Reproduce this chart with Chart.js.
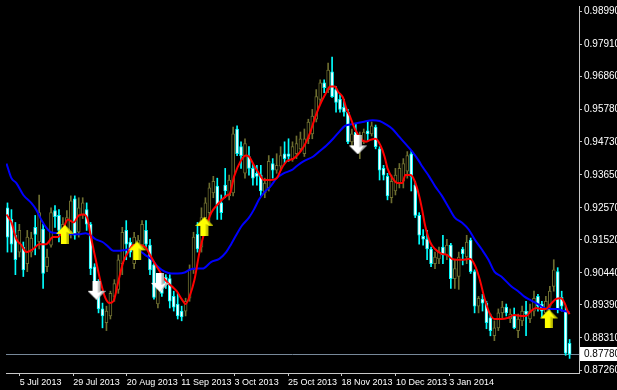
<!DOCTYPE html>
<html>
<head>
<meta charset="utf-8">
<script src="https://cdn.jsdelivr.net/npm/chart.js@4"></script>
<style>
  html, body { margin: 0; padding: 0; background: #000; }
  canvas { display: block; }
</style>
</head>
<body>
<canvas id="grafico" width="617" height="390"></canvas>
<script>
// daily candles, index 0 = first bar on the left
const opens = [
  0.9257, 0.9219, 0.9167, 0.9112, 0.9128, 0.9074, 0.9112, 0.9193, 0.9145, 0.9187,
  0.9064, 0.9135, 0.9248, 0.9232, 0.9161, 0.9177, 0.9177, 0.9286, 0.9177, 0.9235,
  0.9251, 0.9203, 0.9064, 0.9016, 0.8926, 0.8881, 0.8903, 0.8967, 0.8990, 0.9074,
  0.9183, 0.9145, 0.9074, 0.9112, 0.9135, 0.9183, 0.9135, 0.9070, 0.8942, 0.9006,
  0.9029, 0.9025, 0.8967, 0.8942, 0.8919, 0.8919, 0.8961, 0.9054, 0.9170, 0.9128,
  0.9225, 0.9241, 0.9306, 0.9328, 0.9273, 0.9331, 0.9296, 0.9306, 0.9515, 0.9457,
  0.9370, 0.9425, 0.9386, 0.9370, 0.9364, 0.9306, 0.9322, 0.9402, 0.9380, 0.9393,
  0.9434, 0.9434, 0.9418, 0.9434, 0.9450, 0.9434, 0.9483, 0.9499, 0.9547, 0.9612,
  0.9666, 0.9644, 0.9702, 0.9644, 0.9612, 0.9586, 0.9570, 0.9473, 0.9505, 0.9467,
  0.9473, 0.9509, 0.9499, 0.9521, 0.9450, 0.9386, 0.9360, 0.9290, 0.9312, 0.9338,
  0.9344, 0.9377, 0.9434, 0.9331, 0.9232, 0.9164, 0.9154, 0.9122, 0.9074, 0.9090,
  0.9128, 0.9103, 0.9135, 0.9025, 0.9032, 0.9122, 0.9096, 0.9151, 0.9048, 0.8935,
  0.8958, 0.8945, 0.8897, 0.8838, 0.8864, 0.8913, 0.8932, 0.8893, 0.8903, 0.8855,
  0.8887, 0.8919, 0.8893, 0.8919, 0.8967, 0.8942, 0.8913, 0.8935, 0.9000, 0.9048,
  0.8964, 0.8919, 0.8813
];
const highs = [
  0.9273, 0.9251, 0.9209, 0.9203, 0.9145, 0.9183, 0.9177, 0.9232, 0.9299, 0.9203,
  0.9122, 0.9257, 0.9264, 0.9251, 0.9225, 0.9248, 0.9296, 0.9296, 0.9290, 0.9290,
  0.9273, 0.9209, 0.9074, 0.9022, 0.8945, 0.8935, 0.8984, 0.9022, 0.9103, 0.9193,
  0.9215, 0.9158, 0.9177, 0.9167, 0.9215, 0.9215, 0.9154, 0.9074, 0.9025, 0.9016,
  0.9038, 0.9038, 0.8984, 0.8977, 0.8935, 0.8961, 0.9070, 0.9177, 0.9209, 0.9257,
  0.9290, 0.9338, 0.9360, 0.9354, 0.9299, 0.9386, 0.9364, 0.9521, 0.9525, 0.9473,
  0.9483, 0.9457, 0.9402, 0.9396, 0.9396, 0.9354, 0.9428, 0.9418, 0.9434, 0.9457,
  0.9473, 0.9483, 0.9473, 0.9492, 0.9505, 0.9515, 0.9547, 0.9579, 0.9644, 0.9676,
  0.9676, 0.9731, 0.9750, 0.9654, 0.9628, 0.9612, 0.9579, 0.9515, 0.9531, 0.9505,
  0.9515, 0.9541, 0.9538, 0.9528, 0.9457, 0.9396, 0.9370, 0.9364, 0.9386, 0.9402,
  0.9418, 0.9441, 0.9444, 0.9344, 0.9241, 0.9186, 0.9183, 0.9128, 0.9112, 0.9128,
  0.9167, 0.9154, 0.9141, 0.9087, 0.9112, 0.9128, 0.9167, 0.9158, 0.9054, 0.8967,
  0.8974, 0.8951, 0.8909, 0.8887, 0.8926, 0.8951, 0.8942, 0.8926, 0.8929, 0.8909,
  0.8935, 0.8951, 0.8942, 0.8984, 0.8974, 0.8951, 0.8967, 0.9000, 0.9087, 0.9061,
  0.8984, 0.8935, 0.8826
];
const lows = [
  0.9112, 0.9112, 0.9038, 0.9096, 0.9032, 0.9048, 0.9096, 0.9103, 0.9122, 0.8993,
  0.9048, 0.9128, 0.9193, 0.9145, 0.9145, 0.9161, 0.9158, 0.9154, 0.9161, 0.9222,
  0.9183, 0.9038, 0.8967, 0.8913, 0.8864, 0.8855, 0.8893, 0.8951, 0.8977, 0.9038,
  0.9087, 0.9096, 0.9058, 0.9087, 0.9122, 0.9128, 0.9038, 0.8958, 0.8929, 0.8967,
  0.8993, 0.8929, 0.8919, 0.8893, 0.8887, 0.8903, 0.8951, 0.9042, 0.9112, 0.9112,
  0.9193, 0.9209, 0.9290, 0.9219, 0.9219, 0.9290, 0.9283, 0.9296, 0.9428, 0.9386,
  0.9354, 0.9364, 0.9331, 0.9331, 0.9296, 0.9290, 0.9312, 0.9354, 0.9370, 0.9380,
  0.9402, 0.9409, 0.9409, 0.9418, 0.9441, 0.9425, 0.9467, 0.9483, 0.9538, 0.9596,
  0.9634, 0.9634, 0.9618, 0.9570, 0.9570, 0.9557, 0.9467, 0.9460, 0.9467, 0.9418,
  0.9467, 0.9476, 0.9492, 0.9450, 0.9348, 0.9348, 0.9283, 0.9273, 0.9299, 0.9322,
  0.9322, 0.9354, 0.9312, 0.9225, 0.9138, 0.9135, 0.9087, 0.9064, 0.9058, 0.9074,
  0.9074, 0.9087, 0.8993, 0.8993, 0.8990, 0.9070, 0.9074, 0.9042, 0.8913, 0.8913,
  0.8919, 0.8861, 0.8838, 0.8822, 0.8855, 0.8897, 0.8903, 0.8881, 0.8861, 0.8832,
  0.8871, 0.8838, 0.8881, 0.8903, 0.8919, 0.8900, 0.8903, 0.8913, 0.8984, 0.8913,
  0.8919, 0.8774, 0.8764
];
const closes = [
  0.9161, 0.9138, 0.9087, 0.9183, 0.9054, 0.9161, 0.9158, 0.9170, 0.9241, 0.9042,
  0.9096, 0.9241, 0.9228, 0.9183, 0.9203, 0.9225, 0.9280, 0.9167, 0.9257, 0.9273,
  0.9203, 0.9058, 0.8990, 0.8926, 0.8903, 0.8919, 0.8977, 0.9009, 0.9087, 0.9177,
  0.9138, 0.9112, 0.9161, 0.9151, 0.9203, 0.9138, 0.9054, 0.8964, 0.9006, 0.8977,
  0.9006, 0.8951, 0.8932, 0.8903, 0.8900, 0.8951, 0.9054, 0.9161, 0.9122, 0.9225,
  0.9273, 0.9322, 0.9344, 0.9267, 0.9241, 0.9312, 0.9348, 0.9499, 0.9434, 0.9428,
  0.9467, 0.9386, 0.9354, 0.9360, 0.9312, 0.9338, 0.9409, 0.9380, 0.9396, 0.9428,
  0.9418, 0.9425, 0.9457, 0.9467, 0.9483, 0.9483, 0.9538, 0.9557, 0.9621, 0.9666,
  0.9650, 0.9708, 0.9621, 0.9602, 0.9579, 0.9570, 0.9473, 0.9499, 0.9476, 0.9483,
  0.9505, 0.9499, 0.9525, 0.9457, 0.9380, 0.9364, 0.9296, 0.9344, 0.9364, 0.9386,
  0.9402, 0.9428, 0.9360, 0.9232, 0.9167, 0.9154, 0.9122, 0.9074, 0.9096, 0.9112,
  0.9103, 0.9135, 0.9025, 0.9058, 0.9096, 0.9106, 0.9145, 0.9048, 0.8935, 0.8961,
  0.8945, 0.8881, 0.8855, 0.8864, 0.8913, 0.8932, 0.8913, 0.8909, 0.8864, 0.8893,
  0.8919, 0.8909, 0.8919, 0.8961, 0.8935, 0.8919, 0.8951, 0.8984, 0.9054, 0.8926,
  0.8935, 0.8781, 0.8778
];

// fast moving average (red), read at bar positions
const fastMaX = [
  -0.25, 1, 2.25, 3.5, 4.75, 6.5, 8, 9.75, 11.5, 12.75, 14, 15.25, 16.75, 18, 19.25, 20.25,
  21, 22.25, 23.5, 24.75, 25.75, 26.75, 28, 29.25, 30.5, 31.75, 33, 34.75, 36, 37.25, 38.5,
  39.75, 41.5, 42.75, 44, 45, 46, 47.25, 48.5, 49.75, 51.5, 53, 55.25, 56.25, 57.25, 59,
  60.25, 61, 62.25, 63.5, 64.75, 66.5, 68, 69.25, 70.5, 72.25, 74, 75.25, 76.5, 77.75, 79,
  80.25, 81.5, 82.75, 83.5, 84.75, 85.5, 86.5, 87.25, 88, 89.25, 90.5, 91.75, 93, 94.25,
  95.25, 96, 97.25, 98.5, 99.75, 100.5, 101.75, 102.75, 104, 104.75, 105.5, 106.75, 108,
  109.75, 111, 112.25, 113.5, 115.25, 116.75, 118, 119.25, 120.5, 121.75, 123, 124.75,
  126.5, 128, 129.75, 131, 132.25, 133.5, 134.75, 136, 137.25, 138.5, 139.75, 140.75,
  141.5, 142
];
const fastMa = [
  0.9235, 0.9209, 0.9154, 0.9135, 0.9112, 0.9122, 0.9138, 0.9138, 0.9161, 0.9161, 0.9186,
  0.9219, 0.9209, 0.9232, 0.9235, 0.9219, 0.9167, 0.9090, 0.9016, 0.8961, 0.8945, 0.8951,
  0.9016, 0.9080, 0.9112, 0.9135, 0.9135, 0.9129, 0.9103, 0.9074, 0.9048, 0.9022, 0.9000,
  0.8984, 0.8958, 0.8942, 0.8967, 0.9022, 0.9112, 0.9177, 0.9241, 0.9267, 0.9296, 0.9306,
  0.9360, 0.9412, 0.9428, 0.9425, 0.9396, 0.9370, 0.9348, 0.9348, 0.9354, 0.9386, 0.9409,
  0.9418, 0.9441, 0.9467, 0.9505, 0.9554, 0.9596, 0.9628, 0.9654, 0.9654, 0.9637, 0.9618,
  0.9586, 0.9557, 0.9531, 0.9509, 0.9483, 0.9473, 0.9480, 0.9483, 0.9460, 0.9425, 0.9386,
  0.9354, 0.9338, 0.9338, 0.9364, 0.9364, 0.9348, 0.9296, 0.9251, 0.9199, 0.9145, 0.9122,
  0.9106, 0.9103, 0.9090, 0.9087, 0.9087, 0.9090, 0.9071, 0.9025, 0.8961, 0.8913, 0.8893,
  0.8893, 0.8897, 0.8906, 0.8903, 0.8903, 0.8919, 0.8929, 0.8926, 0.8926, 0.8942, 0.8958,
  0.8961, 0.8945, 0.8919, 0.8909
];

// slow moving average (blue)
const slowMaX = [
  -0.25, 1, 2.25, 4, 6, 7.25, 8.5, 9.75, 11, 12.75, 14.25, 16.5, 18, 19.75, 21, 22.25, 24,
  25.5, 26.75, 28, 29.75, 31.5, 33, 34.75, 36.5, 38, 39.75, 41.5, 43, 44.75, 46, 47.75,
  49.25, 51.5, 53.5, 55.25, 56.5, 57.75, 59.25, 61, 62.25, 63.5, 64.75, 66.5, 68, 69.75,
  71.75, 73, 74.75, 77.25, 79, 80.5, 82.25, 84, 85.25, 87.25, 89.75, 92.25, 94, 95.5,
  97.25, 99, 100.5, 102.25, 104, 104.75, 106.5, 108, 109.75, 111.5, 113, 114.75, 116.5,
  118, 119.75, 121.5, 123, 124.75, 127.25, 129, 130.5, 132.25, 134, 135.5, 137.25, 139,
  140.5, 142
];
const slowMa = [
  0.9402, 0.9354, 0.9338, 0.9299, 0.9273, 0.9251, 0.9219, 0.9193, 0.9177, 0.9174, 0.9170,
  0.9170, 0.9170, 0.9174, 0.9167, 0.9154, 0.9145, 0.9129, 0.9116, 0.9116, 0.9119, 0.9122,
  0.9119, 0.9103, 0.9087, 0.9064, 0.9048, 0.9042, 0.9042, 0.9045, 0.9054, 0.9058, 0.9058,
  0.9080, 0.9090, 0.9112, 0.9138, 0.9167, 0.9199, 0.9225, 0.9251, 0.9283, 0.9306, 0.9328,
  0.9354, 0.9370, 0.9380, 0.9393, 0.9409, 0.9425, 0.9444, 0.9460, 0.9483, 0.9509, 0.9525,
  0.9531, 0.9538, 0.9544, 0.9541, 0.9531, 0.9515, 0.9489, 0.9467, 0.9441, 0.9409, 0.9393,
  0.9360, 0.9328, 0.9296, 0.9257, 0.9225, 0.9209, 0.9186, 0.9154, 0.9122, 0.9087, 0.9048,
  0.9032, 0.9000, 0.8984, 0.8967, 0.8954, 0.8942, 0.8929, 0.8926, 0.8926, 0.8919, 0.8916
];

// signal arrows
const buyX = [14.5, 32.75, 49.75, 136.75];
const buyY = [0.9170, 0.9116, 0.9196, 0.8893];
const sellX = [22.5, 38.5, 88.5];
const sellY = [0.8987, 0.9013, 0.9463];

const priceTicks = [0.98990, 0.97910, 0.96860, 0.95780, 0.94730, 0.93650, 0.92570,
  0.91520, 0.90440, 0.89390, 0.88310, 0.87260];
const dateTickPos = [3.125, 16.625, 30.125, 43.875, 57.375, 70.875, 84.375, 98.125, 111.625];
const dateLabels = ['5 Jul 2013', '29 Jul 2013', '20 Aug 2013', '11 Sep 2013', '3 Oct 2013',
  '25 Oct 2013', '18 Nov 2013', '10 Dec 2013', '3 Jan 2014'];
const bidPrice = 0.87780;

const priceMin = 0.87162;
const priceMax = 0.99176;

const OLIVE = '#6e6e30';
const CYAN = '#00ffff';

// arrow symbol with a darker right side, like the terminal's wingdings arrows
function arrowImage(up, fill, shade) {
  const c = document.createElement('canvas');
  c.width = 18;
  c.height = 19;
  const g = c.getContext('2d');
  if (!up) {
    g.translate(0, 19);
    g.scale(1, -1);
  }
  g.beginPath();
  g.moveTo(9, 0);
  g.lineTo(18, 9);
  g.lineTo(13, 9);
  g.lineTo(13, 19);
  g.lineTo(5, 19);
  g.lineTo(5, 9);
  g.lineTo(0, 9);
  g.closePath();
  g.fillStyle = fill;
  g.fill();
  g.beginPath();
  g.moveTo(9, 0);
  g.lineTo(18, 9);
  g.lineTo(13, 9);
  g.lineTo(13, 19);
  g.lineTo(10.5, 19);
  g.lineTo(10.5, 7);
  g.lineTo(15, 9);
  g.closePath();
  g.fillStyle = shade;
  g.globalAlpha = 0.6;
  g.fill();
  return c;
}

const bull = opens.map((o, i) => closes[i] >= o);

// bid line + price box on the axis
const bidPlugin = {
  id: 'bidPlugin',
  beforeDatasetsDraw(chart) {
    const { ctx, chartArea, scales } = chart;
    const py = Math.round(scales.y.getPixelForValue(bidPrice)) + 0.5;
    ctx.save();
    ctx.strokeStyle = '#778899';
    ctx.lineWidth = 1;
    ctx.beginPath();
    ctx.moveTo(chartArea.left, py);
    ctx.lineTo(chartArea.right, py);
    ctx.stroke();
    ctx.restore();
  },
  afterDraw(chart) {
    const { ctx, chartArea, scales } = chart;
    const py = Math.round(scales.y.getPixelForValue(bidPrice));
    ctx.save();
    ctx.fillStyle = '#fff';
    ctx.fillRect(chartArea.right + 1, py - 7, chart.width - chartArea.right - 1, 14);
    ctx.fillStyle = '#000';
    ctx.font = '10px "Liberation Sans", Arial, sans-serif';
    ctx.textBaseline = 'middle';
    ctx.fillText(bidPrice.toFixed(5), chartArea.right + 5, py);
    ctx.restore();
  }
};

const idx = opens.map((_, i) => i);

new Chart(document.getElementById('grafico'), {
  type: 'bar',
  data: {
    datasets: [
      {
        type: 'line',
        data: buyX.map((x, i) => ({ x: x, y: buyY[i] })),
        showLine: false,
        pointStyle: arrowImage(true, '#ffff00', '#9a9a00'),
        pointRadius: 5,
        order: 0
      },
      {
        type: 'line',
        data: sellX.map((x, i) => ({ x: x, y: sellY[i] })),
        showLine: false,
        pointStyle: arrowImage(false, '#ffffff', '#8a8a8a'),
        pointRadius: 5,
        order: 0
      },
      {
        type: 'line',
        data: fastMaX.map((x, i) => ({ x: x, y: fastMa[i] })),
        borderColor: '#ff0000',
        borderWidth: 2,
        pointRadius: 0,
        tension: 0.4,
        cubicInterpolationMode: 'monotone',
        order: 1
      },
      {
        type: 'line',
        data: slowMaX.map((x, i) => ({ x: x, y: slowMa[i] })),
        borderColor: '#0000ff',
        borderWidth: 2,
        pointRadius: 0,
        tension: 0.4,
        cubicInterpolationMode: 'monotone',
        order: 2
      },
      {
        data: idx.map(i => ({ x: i, y: [opens[i], closes[i]] })),
        backgroundColor: bull.map(b => b ? '#000000' : '#ffffff'),
        borderColor: bull.map(b => b ? OLIVE : CYAN),
        borderWidth: 1,
        borderSkipped: false,
        barThickness: 3,
        minBarLength: 1,
        grouped: false,
        order: 3
      },
      {
        data: idx.map(i => ({ x: i, y: [lows[i], highs[i]] })),
        backgroundColor: bull.map(b => b ? OLIVE : CYAN),
        borderWidth: 0,
        barThickness: 1,
        grouped: false,
        order: 4
      }
    ]
  },
  options: {
    responsive: false,
    animation: false,
    layout: { padding: 0 },
    plugins: { legend: { display: false }, tooltip: { enabled: false } },
    scales: {
      x: {
        type: 'linear',
        min: -0.375,
        max: 144.375,
        offset: false,
        afterBuildTicks: s => { s.ticks = dateTickPos.map(v => ({ value: v })); },
        afterFit: s => { s.height = 17; s.paddingLeft = 0; s.paddingRight = 0; },
        grid: { drawOnChartArea: false, offset: false, tickLength: 3, color: '#c8c8c8' },
        border: { color: '#c8c8c8' },
        ticks: {
          color: '#ffffff',
          align: 'start',
          maxRotation: 0,
          autoSkip: false,
          padding: 1,
          font: { family: '"Liberation Sans", Arial, sans-serif', size: 9 },
          callback: (v, i) => dateLabels[i]
        }
      },
      y: {
        position: 'right',
        min: priceMin,
        max: priceMax,
        afterBuildTicks: s => { s.ticks = priceTicks.map(v => ({ value: v })); },
        afterFit: s => { s.width = 38; s.paddingTop = 0; s.paddingBottom = 0; },
        grid: { drawOnChartArea: false, tickLength: 3, color: '#c8c8c8' },
        border: { color: '#c8c8c8' },
        ticks: {
          color: '#ffffff',
          padding: 2,
          autoSkip: false,
          font: { family: '"Liberation Sans", Arial, sans-serif', size: 10 },
          callback: v => v.toFixed(5)
        }
      }
    }
  },
  plugins: [bidPlugin]
});
</script>
</body>
</html>
